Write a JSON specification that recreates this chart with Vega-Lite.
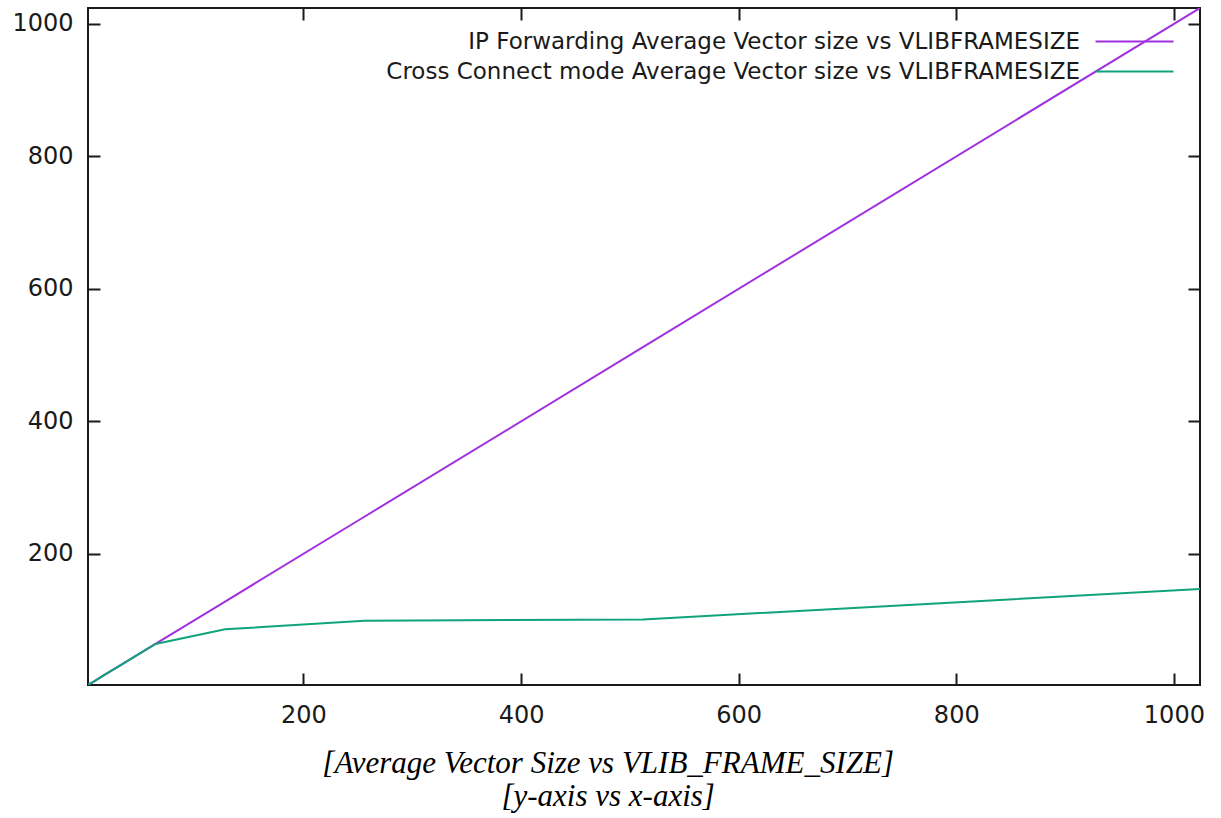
{
  "$schema": "https://vega.github.io/schema/vega-lite/v6.json",
  "width": 1112,
  "height": 677,
  "autosize": {"type": "none"},
  "padding": {"left": 88, "top": 8, "right": 21, "bottom": 133},
  "background": "white",
  "config": {
    "view": {"stroke": "#1a1a1a", "strokeWidth": 2},
    "font": "DejaVu Sans",
    "axis": {
      "grid": false,
      "domain": false,
      "tickColor": "#1a1a1a",
      "tickWidth": 2,
      "tickSize": -12,
      "labelFont": "DejaVu Sans",
      "labelFontSize": 24,
      "labelColor": "#1a1a1a",
      "format": "d",
      "title": null
    }
  },
  "title": {
    "text": ["[Average Vector Size vs VLIB_FRAME_SIZE]", "[y-axis vs x-axis]"],
    "orient": "bottom",
    "anchor": "middle",
    "frame": "bounds",
    "font": "Liberation Serif",
    "fontStyle": "italic",
    "fontWeight": "normal",
    "fontSize": 31,
    "lineHeight": 33,
    "color": "#000000",
    "offset": 22
  },
  "data": {
    "values": [
      {"series": "IP Forwarding Average Vector size vs VLIBFRAMESIZE", "x": 2, "y": 2},
      {"series": "IP Forwarding Average Vector size vs VLIBFRAMESIZE", "x": 4, "y": 4},
      {"series": "IP Forwarding Average Vector size vs VLIBFRAMESIZE", "x": 8, "y": 8},
      {"series": "IP Forwarding Average Vector size vs VLIBFRAMESIZE", "x": 16, "y": 16},
      {"series": "IP Forwarding Average Vector size vs VLIBFRAMESIZE", "x": 32, "y": 32},
      {"series": "IP Forwarding Average Vector size vs VLIBFRAMESIZE", "x": 64, "y": 64},
      {"series": "IP Forwarding Average Vector size vs VLIBFRAMESIZE", "x": 128, "y": 128},
      {"series": "IP Forwarding Average Vector size vs VLIBFRAMESIZE", "x": 256, "y": 256},
      {"series": "IP Forwarding Average Vector size vs VLIBFRAMESIZE", "x": 512, "y": 512},
      {"series": "IP Forwarding Average Vector size vs VLIBFRAMESIZE", "x": 1024, "y": 1024},
      {"series": "Cross Connect mode Average Vector size vs VLIBFRAMESIZE", "x": 2, "y": 2},
      {"series": "Cross Connect mode Average Vector size vs VLIBFRAMESIZE", "x": 4, "y": 4},
      {"series": "Cross Connect mode Average Vector size vs VLIBFRAMESIZE", "x": 8, "y": 8},
      {"series": "Cross Connect mode Average Vector size vs VLIBFRAMESIZE", "x": 16, "y": 16},
      {"series": "Cross Connect mode Average Vector size vs VLIBFRAMESIZE", "x": 32, "y": 32},
      {"series": "Cross Connect mode Average Vector size vs VLIBFRAMESIZE", "x": 64, "y": 64},
      {"series": "Cross Connect mode Average Vector size vs VLIBFRAMESIZE", "x": 128, "y": 86},
      {"series": "Cross Connect mode Average Vector size vs VLIBFRAMESIZE", "x": 256, "y": 99},
      {"series": "Cross Connect mode Average Vector size vs VLIBFRAMESIZE", "x": 512, "y": 101},
      {"series": "Cross Connect mode Average Vector size vs VLIBFRAMESIZE", "x": 1024, "y": 147}
    ]
  },
  "layer": [
    {
      "mark": {"type": "line", "strokeWidth": 2, "clip": true},
      "encoding": {
        "x": {"field": "x", "type": "quantitative", "scale": {"domain": [2, 1024], "nice": false, "zero": false},
              "axis": {"orient": "bottom", "values": [200, 400, 600, 800, 1000], "labelPadding": 30}},
        "y": {"field": "y", "type": "quantitative", "scale": {"domain": [2, 1024], "nice": false, "zero": false},
              "axis": {"orient": "left", "values": [200, 400, 600, 800, 1000], "labelPadding": 27}},
        "color": {
          "field": "series", "type": "nominal",
          "scale": {
            "domain": ["IP Forwarding Average Vector size vs VLIBFRAMESIZE", "Cross Connect mode Average Vector size vs VLIBFRAMESIZE"],
            "range": ["#a030e0", "#10a47a"]
          },
          "sort": null,
          "legend": {
            "title": null,
            "orient": "top-right",
            "offset": 22,
            "padding": 0,
            "symbolType": "M-4,0H4",
            "symbolSize": 380,
            "symbolStrokeWidth": 2,
            "labelFont": "DejaVu Sans",
            "labelFontSize": 23,
            "labelColor": "#1a1a1a",
            "labelLimit": 1000,
            "labelAlign": "right",
            "labelOffset": -66,
            "rowPadding": 6
          }
        }
      }
    },
    {
      "mark": {"type": "line", "strokeOpacity": 0},
      "encoding": {
        "x": {"field": "x", "type": "quantitative",
              "axis": {"orient": "top", "values": [200, 400, 600, 800, 1000], "labels": false}},
        "y": {"field": "y", "type": "quantitative",
              "axis": {"orient": "right", "values": [200, 400, 600, 800, 1000], "labels": false}},
        "detail": {"field": "series"}
      }
    }
  ],
  "resolve": {"axis": {"x": "independent", "y": "independent"}}
}
